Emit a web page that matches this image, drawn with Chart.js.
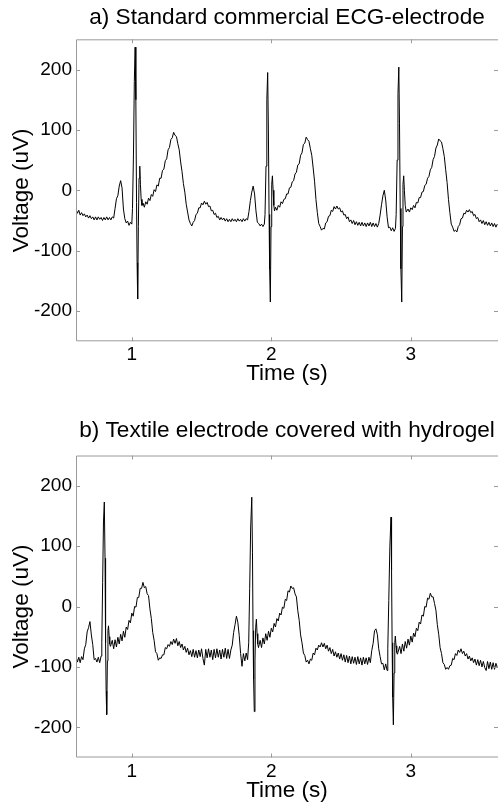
<!DOCTYPE html>
<html>
<head>
<meta charset="utf-8">
<script src="https://cdn.jsdelivr.net/npm/chart.js@4"></script>
<style>
  body { margin: 0; background: #fff; }
  .panel { position: relative; width: 498px; height: 402px; }
</style>
</head>
<body>
<div class="panel"><canvas id="chartA"></canvas></div>
<div class="panel"><canvas id="chartB"></canvas></div>
<script>
// samples: [time (s), voltage (uV)]
var ecgStandard = [
  [0.60,-31],[0.61,-38],[0.62,-33],[0.63,-41],[0.64,-37],[0.65,-42],[0.66,-39],[0.67,-44],[0.68,-41],[0.69,-46],
  [0.70,-42],[0.71,-47],[0.72,-44],[0.73,-49],[0.74,-44],[0.75,-49],[0.76,-44],[0.77,-48],[0.78,-45],[0.79,-50],
  [0.80,-45],[0.81,-49],[0.82,-44],[0.83,-49],[0.84,-45],[0.85,-49],[0.86,-44],[0.87,-46],
  [0.88,-30],[0.89,-14],[0.90,-9],[0.91,7],[0.92,16],[0.93,4],[0.94,-31],[0.95,-47],[0.96,-54],[0.97,-51],
  [0.98,-58],[0.99,-53],[1.00,-56],
  [1.005,-30],[1.012,60],[1.018,180],[1.024,237],[1.029,150],[1.034,-20],[1.038,-120],[1.042,-180],[1.047,-60],
  [1.052,20],[1.057,40],[1.062,10],[1.067,-15],[1.073,-25],
  [1.08,-21],[1.09,-28],[1.10,-19],[1.11,-23],[1.12,-13],[1.13,-17],[1.14,-7],[1.15,-10],[1.16,1],[1.17,-2],
  [1.18,9],[1.19,7],[1.20,20],[1.21,20],[1.22,33],[1.23,35],[1.24,49],[1.25,52],[1.26,67],[1.27,71],
  [1.28,84],[1.29,87],[1.30,96],[1.31,91],[1.32,89],[1.33,77],[1.34,67],[1.35,47],[1.36,31],[1.37,11],
  [1.38,-3],[1.39,-23],[1.40,-36],[1.41,-49],[1.42,-55],[1.43,-59],[1.44,-53],[1.45,-50],[1.46,-40],[1.47,-38],
  [1.48,-29],[1.49,-29],[1.50,-21],[1.51,-24],[1.52,-18],[1.53,-23],[1.54,-20],[1.55,-27],[1.56,-26],[1.57,-34],
  [1.58,-33],[1.59,-40],[1.60,-38],[1.61,-45],[1.62,-43],[1.63,-49],[1.64,-45],[1.65,-49],[1.66,-46],[1.67,-51],
  [1.68,-47],[1.69,-52],[1.70,-48],[1.71,-52],[1.72,-47],[1.73,-51],[1.74,-48],[1.75,-52],[1.76,-47],[1.77,-51],
  [1.78,-48],[1.79,-52],[1.80,-47],[1.81,-51],[1.82,-47],[1.83,-49],
  [1.84,-35],[1.85,-17],[1.86,-3],[1.87,7],[1.88,-6],[1.89,-34],[1.90,-53],[1.91,-55],[1.92,-59],[1.93,-56],
  [1.94,-60],[1.95,-56],
  [1.955,-40],[1.962,40],[1.968,150],[1.974,195],[1.979,100],[1.984,-40],[1.988,-130],[1.993,-185],[1.998,-60],
  [2.003,10],[2.008,24],[2.013,0],[2.018,-25],[2.023,-34],
  [2.03,-28],[2.04,-33],[2.05,-25],[2.06,-28],[2.07,-19],[2.08,-22],[2.09,-15],[2.10,-14],[2.11,-6],[2.12,-6],
  [2.13,4],[2.14,5],[2.15,14],[2.16,16],[2.17,27],[2.18,30],[2.19,42],[2.20,44],[2.21,58],[2.22,62],
  [2.23,76],[2.24,78],[2.25,88],[2.26,84],[2.27,81],[2.28,69],[2.29,58],[2.30,37],[2.31,15],[2.32,-15],
  [2.33,-37],[2.34,-55],[2.35,-60],[2.36,-66],[2.37,-63],[2.38,-64],[2.39,-54],[2.40,-52],[2.41,-43],[2.42,-42],
  [2.43,-33],[2.44,-35],[2.45,-27],[2.46,-31],[2.47,-26],[2.48,-31],[2.49,-29],[2.50,-36],[2.51,-34],[2.52,-41],
  [2.53,-40],[2.54,-47],[2.55,-44],[2.56,-52],[2.57,-49],[2.58,-55],[2.59,-50],[2.60,-57],[2.61,-52],[2.62,-58],
  [2.63,-53],[2.64,-59],[2.65,-53],[2.66,-59],[2.67,-54],[2.68,-60],[2.69,-54],[2.70,-59],[2.71,-53],[2.72,-60],
  [2.73,-54],[2.74,-60],[2.75,-55],[2.76,-61],[2.77,-55],
  [2.78,-41],[2.79,-24],[2.80,-9],[2.81,0],[2.82,-16],[2.83,-44],[2.84,-62],[2.85,-61],[2.86,-67],[2.87,-62],
  [2.88,-68],[2.89,-63],
  [2.895,-40],[2.902,50],[2.908,160],[2.914,204],[2.919,110],[2.924,-30],[2.929,-130],[2.935,-185],[2.940,-60],
  [2.944,10],[2.949,24],[2.954,0],[2.960,-25],[2.967,-36],
  [2.98,-31],[2.99,-36],[3.00,-29],[3.01,-32],[3.02,-25],[3.03,-29],[3.04,-20],[3.05,-21],[3.06,-12],[3.07,-12],
  [3.08,-3],[3.09,-2],[3.10,8],[3.11,10],[3.12,20],[3.13,23],[3.14,34],[3.15,38],[3.16,51],[3.17,56],
  [3.18,70],[3.19,75],[3.20,85],[3.21,82],[3.22,80],[3.23,69],[3.24,56],[3.25,34],[3.26,13],[3.27,-15],
  [3.28,-37],[3.29,-56],[3.30,-61],[3.31,-68],[3.32,-66],[3.33,-69],[3.34,-60],[3.35,-57],[3.36,-47],[3.37,-46],
  [3.38,-38],[3.39,-39],[3.40,-33],[3.41,-36],[3.42,-32],[3.43,-37],[3.44,-35],[3.45,-42],[3.46,-40],[3.47,-47],
  [3.48,-45],[3.49,-52],[3.50,-49],[3.51,-55],[3.52,-50],[3.53,-57],[3.54,-52],[3.55,-58],[3.56,-53],[3.57,-59],
  [3.58,-54],[3.59,-60],[3.60,-55],[3.61,-61],[3.62,-56]
];

var ecgTextile = [
  [0.60,-82],[0.61,-92],[0.62,-84],[0.63,-93],[0.64,-83],[0.65,-88],
  [0.66,-70],[0.67,-63],[0.68,-42],[0.69,-35],[0.70,-25],[0.71,-47],[0.72,-63],[0.73,-88],[0.74,-86],[0.75,-92],
  [0.76,-84],[0.77,-93],[0.78,-82],
  [0.785,-60],[0.791,40],[0.797,140],[0.803,173],[0.808,80],[0.812,-60],[0.816,-140],[0.820,-179],[0.825,-90],
  [0.829,-40],[0.833,-32],[0.838,-50],[0.842,-62],[0.847,-66],
  [0.86,-56],[0.87,-70],[0.88,-55],[0.89,-67],[0.90,-51],[0.91,-62],[0.92,-46],[0.93,-57],[0.94,-41],[0.95,-51],
  [0.96,-34],[0.97,-38],[0.98,-23],[0.99,-27],[1.00,-11],[1.01,-16],[1.02,0],[1.03,-1],[1.04,15],[1.05,15],
  [1.06,30],[1.07,30],[1.08,40],[1.09,31],[1.10,33],[1.11,21],[1.12,18],[1.13,-4],[1.14,-20],[1.15,-43],
  [1.16,-56],[1.17,-75],[1.18,-78],[1.19,-89],[1.20,-85],[1.21,-86],[1.22,-80],[1.23,-80],[1.24,-68],[1.25,-70],
  [1.26,-63],[1.27,-66],[1.28,-58],[1.29,-63],[1.30,-54],[1.31,-61],[1.32,-53],[1.33,-65],[1.34,-58],[1.35,-68],
  [1.36,-62],[1.37,-72],[1.38,-66],[1.39,-76],[1.40,-69],[1.41,-80],[1.42,-73],[1.43,-83],[1.44,-71],[1.45,-84],
  [1.46,-73],[1.47,-85],[1.48,-72],[1.49,-83],[1.50,-70],[1.51,-86],[1.52,-97],[1.53,-71],[1.54,-85],[1.55,-70],
  [1.56,-84],[1.57,-72],[1.58,-88],[1.59,-71],[1.60,-85],[1.61,-70],[1.62,-84],[1.63,-72],[1.64,-87],[1.65,-71],
  [1.66,-84],[1.67,-69],[1.68,-86],[1.69,-71],[1.70,-86],[1.71,-72],
  [1.72,-64],[1.73,-43],[1.74,-30],[1.75,-16],[1.76,-26],[1.77,-48],[1.78,-78],[1.79,-99],[1.80,-78],[1.81,-90],
  [1.82,-77],[1.83,-88],
  [1.838,-60],[1.845,30],[1.852,130],[1.860,181],[1.865,90],[1.869,-40],[1.873,-120],[1.878,-174],[1.883,-90],
  [1.888,-35],[1.893,-21],[1.898,-45],[1.903,-62],[1.908,-68],
  [1.92,-56],[1.93,-68],[1.94,-52],[1.95,-62],[1.96,-45],[1.97,-56],[1.98,-41],[1.99,-51],[2.00,-36],[2.01,-42],
  [2.02,-28],[2.03,-34],[2.04,-20],[2.05,-24],[2.06,-11],[2.07,-14],[2.08,-1],[2.09,-3],[2.10,12],[2.11,10],
  [2.12,26],[2.13,24],[2.14,34],[2.15,30],[2.16,31],[2.17,21],[2.18,16],[2.19,-7],[2.20,-23],[2.21,-47],
  [2.22,-60],[2.23,-77],[2.24,-81],[2.25,-92],[2.26,-89],[2.27,-95],[2.28,-87],[2.29,-89],[2.30,-77],[2.31,-80],
  [2.32,-69],[2.33,-72],[2.34,-64],[2.35,-67],[2.36,-60],[2.37,-67],[2.38,-61],[2.39,-70],[2.40,-64],[2.41,-74],
  [2.42,-68],[2.43,-78],[2.44,-71],[2.45,-82],[2.46,-75],[2.47,-84],[2.48,-77],[2.49,-87],[2.50,-78],[2.51,-89],
  [2.52,-80],[2.53,-92],[2.54,-81],[2.55,-93],[2.56,-82],[2.57,-95],[2.58,-83],[2.59,-94],[2.60,-84],[2.61,-96],
  [2.62,-83],[2.63,-95],[2.64,-85],[2.65,-97],[2.66,-84],[2.67,-95],[2.68,-85],[2.69,-96],[2.70,-84],[2.71,-93],
  [2.72,-73],[2.73,-61],[2.74,-40],[2.75,-37],[2.76,-46],[2.77,-70],[2.78,-83],[2.79,-95],[2.80,-94],[2.81,-105],
  [2.82,-95],[2.83,-106],
  [2.835,-70],[2.842,10],[2.850,100],[2.858,148],[2.862,60],[2.866,-60],[2.870,-150],[2.875,-196],[2.880,-110],
  [2.885,-60],[2.889,-49],[2.894,-65],[2.899,-76],[2.904,-79],
  [2.92,-66],[2.93,-78],[2.94,-62],[2.95,-74],[2.96,-58],[2.97,-69],[2.98,-54],[2.99,-64],[3.00,-49],[3.01,-59],
  [3.02,-44],[3.03,-50],[3.04,-36],[3.05,-40],[3.06,-26],[3.07,-29],[3.08,-14],[3.09,-16],[3.10,0],[3.11,-1],
  [3.12,14],[3.13,12],[3.14,22],[3.15,16],[3.16,16],[3.17,5],[3.18,-6],[3.19,-30],[3.20,-46],[3.21,-68],
  [3.22,-78],[3.23,-93],[3.24,-96],[3.25,-104],[3.26,-101],[3.27,-104],[3.28,-98],[3.29,-97],[3.30,-86],[3.31,-88],
  [3.32,-78],[3.33,-81],[3.34,-72],[3.35,-76],[3.36,-70],[3.37,-78],[3.38,-74],[3.39,-82],[3.40,-78],[3.41,-87],
  [3.42,-82],[3.43,-90],[3.44,-85],[3.45,-93],[3.46,-87],[3.47,-97],[3.48,-88],[3.49,-98],[3.50,-89],[3.51,-100],
  [3.52,-91],[3.53,-101],[3.54,-106],[3.55,-91],[3.56,-103],[3.57,-92],[3.58,-104],[3.59,-93],[3.60,-104],[3.61,-94],
  [3.62,-101]
];

var timeTicks = [1, 2, 3];
var voltTicks = [-200, -100, 0, 100, 200];

Chart.defaults.font.family = '"Liberation Sans", Arial, sans-serif';
Chart.defaults.color = '#000';

// matlab-like box: left/top/bottom lines, ticks pointing inward
var framePlugin = {
  id: 'frame',
  afterDraw: function(chart) {
    var ctx = chart.ctx, a = chart.chartArea, x = chart.scales.x, y = chart.scales.y;
    ctx.save();
    ctx.strokeStyle = '#9a9a9a';
    ctx.lineWidth = 1;
    ctx.beginPath();
    ctx.moveTo(a.right, a.top + 0.5);
    ctx.lineTo(a.left + 0.5, a.top + 0.5);
    ctx.lineTo(a.left + 0.5, a.bottom - 0.5);
    ctx.lineTo(a.right, a.bottom - 0.5);
    x.ticks.forEach(function(t) {
      var px = Math.round(x.getPixelForValue(t.value)) + 0.5;
      ctx.moveTo(px, a.bottom); ctx.lineTo(px, a.bottom - 4);
      ctx.moveTo(px, a.top); ctx.lineTo(px, a.top + 4);
    });
    y.ticks.forEach(function(t) {
      var py = Math.round(y.getPixelForValue(t.value)) + 0.5;
      ctx.moveTo(a.left, py); ctx.lineTo(a.left + 4, py);
      ctx.moveTo(a.right, py); ctx.lineTo(a.right - 4, py);
    });
    ctx.stroke();
    ctx.restore();
  }
};

function makeChart(id, title, samples, lay) {
  var ctx = document.getElementById(id).getContext('2d');
  return new Chart(ctx, {
    type: 'line',
    data: {
      datasets: [{
        data: samples.map(function(s) { return {x: s[0], y: s[1]}; }),
        borderColor: '#000',
        borderWidth: 1,
        pointRadius: 0,
        tension: 0,
        fill: false
      }]
    },
    options: {
      responsive: true,
      maintainAspectRatio: false,
      animation: false,
      devicePixelRatio: 1,
      parsing: false,
      layout: { padding: 0 },
      plugins: {
        legend: { display: false },
        tooltip: { enabled: false },
        title: {
          display: true,
          text: title,
          fullSize: false,
          color: '#000',
          font: { size: 22.6, weight: 'normal' },
          padding: { top: lay.titleTop, bottom: lay.titleBottom }
        }
      },
      scales: {
        x: {
          type: 'linear',
          min: 0.6,
          max: 3.625,
          grid: { display: false, drawTicks: false },
          border: { display: false },
          afterBuildTicks: function(s) { s.ticks = timeTicks.map(function(v) { return {value: v}; }); },
          afterFit: function(s) { s.height = lay.xHeight; },
          ticks: { padding: lay.xTickPad, font: { size: 19 }, color: '#000', maxRotation: 0,
                   callback: function(v) { return String(v); } },
          title: { display: true, text: 'Time (s)', color: '#000', font: { size: 22.5 },
                   padding: { top: 0, bottom: lay.xTitleBottom } }
        },
        y: {
          min: -250,
          max: 250,
          grid: { display: false, drawTicks: false },
          border: { display: false },
          afterBuildTicks: function(s) { s.ticks = voltTicks.map(function(v) { return {value: v}; }); },
          afterFit: function(s) { s.width = 76; },
          ticks: { padding: 4, font: { size: 19 }, color: '#000',
                   callback: function(v) { return String(v); } },
          title: { display: true, text: 'Voltage (uV)', color: '#000', font: { size: 22.5 },
                   padding: { top: 8.5, bottom: 0 } }
        }
      }
    },
    plugins: [framePlugin]
  });
}

makeChart('chartA', 'a) Standard commercial ECG-electrode', ecgStandard,
  { titleTop: 3.9, titleBottom: 8.3, xHeight: 60.7, xTickPad: 2.3, xTitleBottom: 15.2 });
makeChart('chartB', 'b) Textile electrode covered with hydrogel', ecgTextile,
  { titleTop: 15.7, titleBottom: 10.7, xHeight: 46.5, xTickPad: 2.8, xTitleBottom: 0 });
</script>
</body>
</html>
